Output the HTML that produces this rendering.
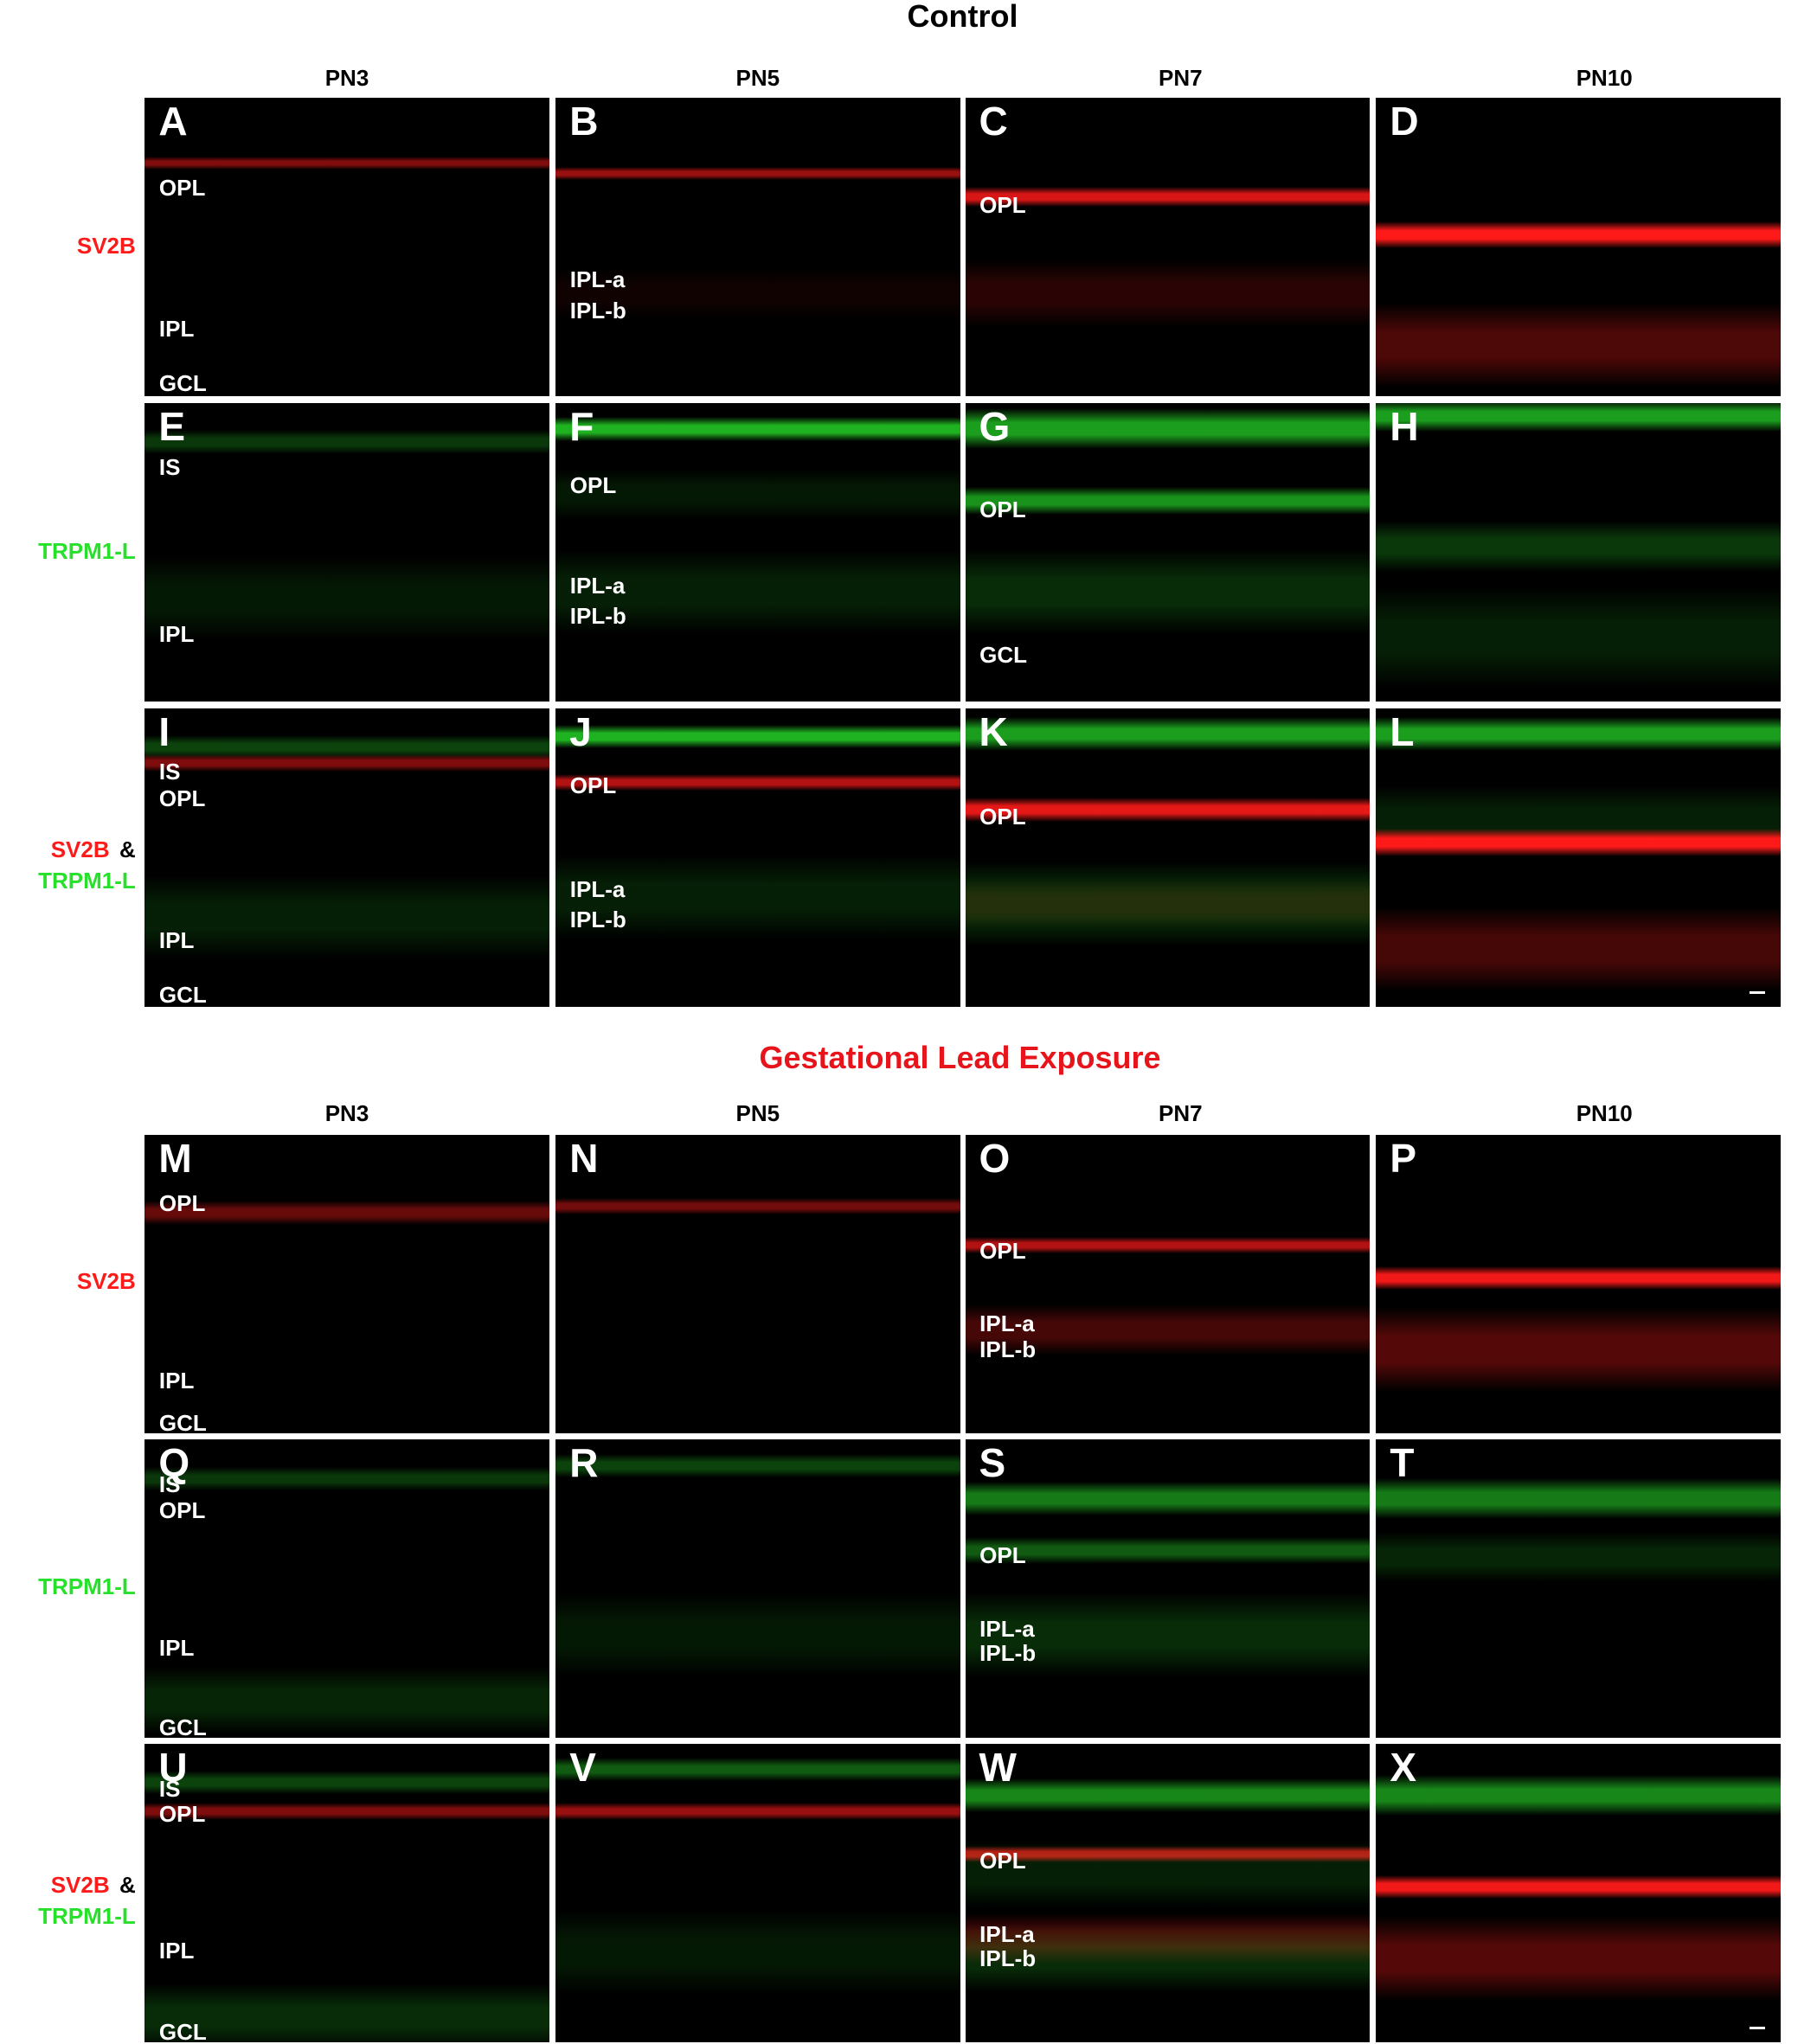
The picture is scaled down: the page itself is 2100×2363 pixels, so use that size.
<!DOCTYPE html>
<html><head><meta charset="utf-8">
<style>
html,body{margin:0;padding:0;background:#fff;}
#root{position:relative;width:2100px;height:2363px;overflow:hidden;font-family:"Liberation Sans",Arial,sans-serif;font-weight:bold;}
.t{position:absolute;white-space:nowrap;}
.panel{position:absolute;background:#000;overflow:hidden;}
.band{position:absolute;left:0;right:0;}
.lbl{position:absolute;color:#fff;font-size:26px;font-weight:bold;white-space:nowrap;line-height:1;}
.let{position:absolute;color:#fff;font-size:46px;font-weight:bold;line-height:1;left:16px;top:4px;}
</style></head>
<body>
<div id="root"></div>
<script>
const S=1.5075;
const colX=[111,426,740,1055];
const rowY=[75,309,543,870,1104,1337];
const PW=310, PH=229;
const R='#ff1a1a', G='#27e02a';
const panelLetters="ABCDEFGHIJKLMNOPQRSTUVWX".split('');
const panelLabels={
A:[['OPL',69],['IPL',177],['GCL',219]],B:[['IPL-a',139],['IPL-b',163]],C:[['OPL',82]],D:[],
E:[['IS',49],['IPL',177]],F:[['OPL',63],['IPL-a',140],['IPL-b',163]],G:[['OPL',82],['GCL',193]],H:[],
I:[['IS',49],['OPL',69],['IPL',178],['GCL',220]],J:[['OPL',59],['IPL-a',139],['IPL-b',162]],K:[['OPL',83]],L:[],
M:[['OPL',53],['IPL',189],['GCL',221]],N:[],O:[['OPL',89],['IPL-a',145],['IPL-b',165]],P:[],
Q:[['IS',34],['OPL',54],['IPL',160],['GCL',221]],R:[],S:[['OPL',89],['IPL-a',145],['IPL-b',164]],T:[],
U:[['IS',35],['OPL',54],['IPL',159],['GCL',221]],V:[],W:[['OPL',90],['IPL-a',146],['IPL-b',165]],X:[]};
const panelBands={
A:[[R,50,8,0.5]],B:[[R,58,8,0.6],[R,150,30,0.12]],C:[[R,76,12,0.85],[R,150,40,0.3]],D:[[R,105,16,1],[R,190,50,0.55]],
E:[[G,30,14,0.25],[G,150,50,0.2]],F:[[G,20,14,0.8],[G,70,30,0.2],[G,145,50,0.25]],G:[[G,20,24,0.7],[G,75,16,0.65],[G,145,50,0.35]],H:[[G,10,18,0.7],[G,110,30,0.45],[G,180,60,0.25]],
I:[[G,30,14,0.3],[R,42,10,0.5],[G,160,50,0.25]],J:[[G,22,14,0.8],[R,57,10,0.7],[G,145,50,0.25]],K:[[G,20,20,0.7],[R,78,14,0.9],[G,150,50,0.4],[R,150,30,0.2]],L:[[G,20,20,0.7],[G,85,40,0.25],[R,103,16,1],[R,185,50,0.5]],
M:[[R,60,14,0.4]],N:[[R,55,10,0.45]],O:[[R,85,10,0.7],[R,150,30,0.5]],P:[[R,110,14,0.95],[R,165,50,0.6]],
Q:[[G,30,14,0.25],[G,200,40,0.3]],R:[[G,20,14,0.3],[G,150,50,0.2]],S:[[G,45,20,0.55],[G,85,16,0.4],[G,150,50,0.35]],T:[[G,45,24,0.55],[G,90,30,0.3]],
U:[[G,30,14,0.3],[R,52,10,0.5],[G,210,40,0.35]],V:[[G,20,14,0.4],[R,52,10,0.6],[G,160,50,0.2]],W:[[G,40,20,0.6],[R,85,10,0.75],[G,100,40,0.25],[R,150,30,0.5],[G,165,40,0.35]],X:[[G,40,24,0.6],[R,110,14,0.95],[R,165,50,0.6]]};
const colHeads=['PN3','PN5','PN7','PN10'];
const root=document.getElementById('root');
function txt(s,x,y,size,color,anchor){
  const d=document.createElement('div');d.className='t';d.textContent=s;
  d.style.fontSize=size+'px';d.style.color=color;d.style.top=(y*S-size*0.6)+'px';
  if(anchor==='c'){d.style.left=(x*S)+'px';d.style.transform='translateX(-50%)';}
  else if(anchor==='r'){d.style.right=(2100-x*S)+'px';}
  else d.style.left=(x*S)+'px';
  root.appendChild(d);return d;
}
let e;
e=txt('Control',738,13,36,'#000','c');


e=txt('Gestational Lead Exposure',736,812,36,'#e8141b','c');


[60,854].forEach((yy,k)=>{colHeads.forEach((h,i)=>{
  const c=[266,581,905,1230][i];
  const el=txt(h,c,yy,26,'#000','c');
  
  
});});
const rowLbl=[[[ 'SV2B',R,189]],[['TRPM1-L',G,423]],[['SV2B',R,652,true],['TRPM1-L',G,676]]];
[0,794].forEach(off=>{rowLbl.forEach((arr,ri)=>{arr.forEach(a=>{
  const el=txt(a[0],a[3]?84:104,a[2]+off,26,a[1],'r');
  
  
  if(a[3]){const amp=txt('&',104,a[2]+off,26,'#000','r');
    
    }
});});});
panelLetters.forEach((L,idx)=>{
  const r=Math.floor(idx/4),c=idx%4;
  const p=document.createElement('div');p.className='panel';
  
  
  p.style.left=(colX[c]*S)+'px';p.style.top=(rowY[r]*S)+'px';
  p.style.width=(PW*S)+'px';p.style.height=(PH*S)+'px';
  panelBands[L].forEach(b=>{
    const d=document.createElement('div');d.className='band';
    
    
    const h=b[2]*S*1.3;
    d.style.top=(b[1]*S-h/2)+'px';d.style.height=h+'px';
    d.style.background='linear-gradient(to bottom,transparent 0%,'+b[0]+' 35%,'+b[0]+' 65%,transparent 100%)';
    d.style.opacity=b[2]>=30?b[3]*0.55:b[3];
    p.appendChild(d);
  });
  const le=document.createElement('div');le.className='let';le.textContent=L;
  
  
  p.appendChild(le);
  panelLabels[L].forEach(l=>{
    const d=document.createElement('div');d.className='lbl';d.textContent=l[0];
    
    
    d.style.left=(11*S)+'px';d.style.top=(l[1]*S-13)+'px';
    p.appendChild(d);
  });
  if(L==='L'||L==='X'){
    const sb=document.createElement('div');
    
    
    sb.style.cssText='position:absolute;background:#fff;height:3px;width:18px;right:'+(12*S)+'px;top:'+(PH*S-18)+'px;';
    p.appendChild(sb);
  }
  root.appendChild(p);
});
</script>
</body></html>
